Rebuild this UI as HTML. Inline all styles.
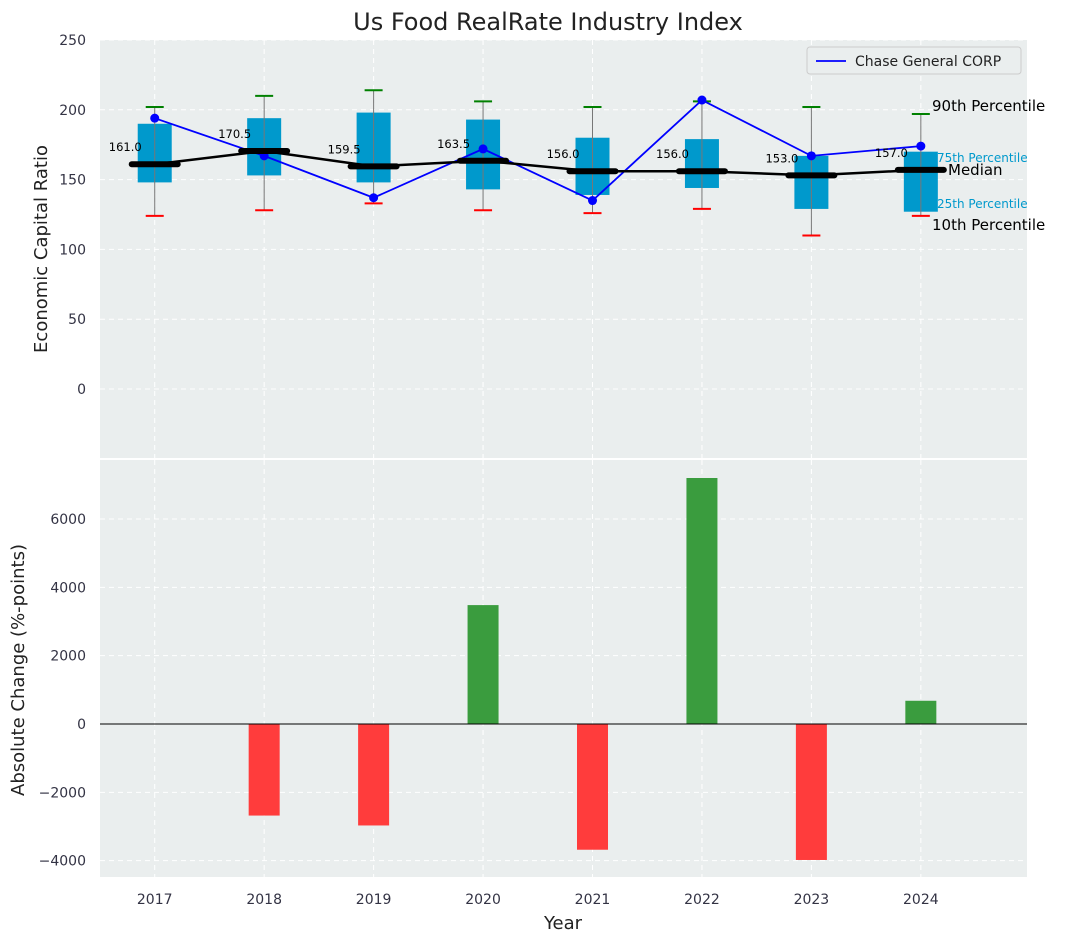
<!DOCTYPE html>
<html><head><meta charset="utf-8"><style>
body{margin:0;background:#fff;font-family:"Liberation Sans","DejaVu Sans",sans-serif}
svg text{font-family:"DejaVu Sans","Liberation Sans",sans-serif}
</style></head><body>
<svg id="c" width="1067" height="942" viewBox="0 0 1067 942">
<text x="548" y="30" text-anchor="middle" font-size="24" fill="#222">Us Food RealRate Industry Index</text>
<g id="topPanel"></g>
<g id="botPanel"></g>
</svg>
<script>
const years=[2017,2018,2019,2020,2021,2022,2023,2024];
const p10=[124,128,133,128,126,129,110,124];
const p25=[148,153,148,143,139,144,129,127];
const medians=[161.0,170.5,159.5,163.5,156.0,156.0,153.0,157.0];
const p75=[190,194,198,193,180,179,167,170];
const p90=[202,210,214,206,202,206,202,197];
const company=[194,167,137,172,135,207,167,174];
const changes=[0,-2680,-2970,3480,-3680,7200,-3980,680];
const topTicks=[0,50,100,150,200,250];
const botTicks=[-4000,-2000,0,2000,4000,6000];
const NS='http://www.w3.org/2000/svg';
const L=100,R=1027;
const x=v=>L+(v-2016.5)*(R-L)/(2024.97-2016.5);
const yT=v=>389-(v)*(389-40)/250;
const yB=v=>724-(v)*(724-519)/6000;
const fmt=v=>String(v).replace('-','\u2212');
function mk(p,t,a,txt){const e=document.createElementNS(NS,t);for(const k in a)e.setAttribute(k,a[k]);if(txt!==undefined)e.textContent=txt;p.appendChild(e);return e;}
const topG=document.getElementById('topPanel'),botG=document.getElementById('botPanel');
let e=mk(topG,'rect',{x:L,y:40,width:R-L,height:418,fill:'#eaeeee'});


e=mk(botG,'rect',{x:L,y:460,width:R-L,height:417,fill:'#eaeeee'});


years.forEach(yr=>{
 mk(topG,'line',{x1:x(yr),x2:x(yr),y1:40,y2:458,stroke:'#fff','stroke-dasharray':'5,4','stroke-width':1});
 mk(botG,'line',{x1:x(yr),x2:x(yr),y1:460,y2:877,stroke:'#fff','stroke-dasharray':'5,4','stroke-width':1});
 e=mk(botG,'text',{x:x(yr),y:904,'text-anchor':'middle','font-size':14,fill:'#334'},yr);
 
 
});
topTicks.forEach(t=>{
 mk(topG,'line',{x1:L,x2:R,y1:yT(t),y2:yT(t),stroke:'#fff','stroke-dasharray':'5,4'});
 e=mk(topG,'text',{x:86,y:yT(t)+5,'text-anchor':'end','font-size':14,fill:'#334'},fmt(t));
 
 
});
botTicks.forEach(t=>{
 mk(botG,'line',{x1:L,x2:R,y1:yB(t),y2:yB(t),stroke:'#fff','stroke-dasharray':'5,4'});
 e=mk(botG,'text',{x:86,y:yB(t)+5,'text-anchor':'end','font-size':14,fill:'#334'},fmt(t));
 
 
});
years.forEach((yr,i)=>{
 const cx=x(yr);
 e=mk(topG,'rect',{x:cx-17,y:yT(p75[i]),width:34,height:yT(p25[i])-yT(p75[i]),fill:'#0099cc'});
 
 
 mk(topG,'line',{x1:cx,x2:cx,y1:yT(p90[i]),y2:yT(p10[i]),stroke:'#777','stroke-width':1});
 mk(topG,'line',{x1:cx-9,x2:cx+9,y1:yT(p90[i]),y2:yT(p90[i]),stroke:'green','stroke-width':2});
 mk(topG,'line',{x1:cx-9,x2:cx+9,y1:yT(p10[i]),y2:yT(p10[i]),stroke:'red','stroke-width':2});
});
let d=years.map((yr,i)=>(i?'L':'M')+x(yr)+','+yT(company[i])).join('');
e=mk(topG,'path',{d:d,fill:'none',stroke:'blue','stroke-width':1.8});


years.forEach((yr,i)=>{e=mk(topG,'circle',{cx:x(yr),cy:yT(company[i]),r:4.5,fill:'blue'});
 
 });
d=years.map((yr,i)=>(i?'L':'M')+x(yr)+','+yT(medians[i])).join('');
e=mk(topG,'path',{d:d,fill:'none',stroke:'#000','stroke-width':2.5});


years.forEach((yr,i)=>{
 const cx=x(yr);
 e=mk(topG,'line',{x1:cx-23,x2:cx+23,y1:yT(medians[i]),y2:yT(medians[i]),stroke:'#000','stroke-width':6,'stroke-linecap':'round'});
 
 
 e=mk(topG,'text',{x:cx-13,y:yT(medians[i])-13,'text-anchor':'end','font-size':11.5,fill:'#000'},medians[i].toFixed(1));
 
 
});
const annots=[['90th Percentile',15,'#000',932,111],['75th Percentile',12,'#0099cc',937,162],['Median',15,'#000',948,175],['25th Percentile',12,'#0099cc',937,208],['10th Percentile',15,'#000',932,230]];
annots.forEach(a=>{
 e=mk(topG,'text',{x:a[3],y:a[4],'font-size':a[1],fill:a[2]},a[0]);
 
 
});
const lg=mk(topG,'g',{});


mk(lg,'rect',{x:807,y:47,width:214,height:27,rx:3,fill:'#eaeeee',stroke:'#ccc'});
mk(lg,'line',{x1:816,x2:846,y1:61,y2:61,stroke:'blue','stroke-width':1.8});
mk(lg,'text',{x:855,y:66,'font-size':14,fill:'#222'},'Chase General CORP');
years.forEach((yr,i)=>{
 const v=changes[i];if(!v)return;
 const y0=yB(0),y1=yB(v);
 e=mk(botG,'rect',{x:x(yr)-15.5,y:Math.min(y0,y1),width:31,height:Math.abs(y1-y0),fill:v>0?'#3a9c3e':'#ff3c3c'});
 
 
});
mk(botG,'line',{x1:L,x2:R,y1:yB(0),y2:yB(0),stroke:'#000','stroke-width':1});
mk(botG,'line',{x1:L,x2:R,y1:459,y2:459,stroke:'#fff','stroke-width':2});
e=mk(topG,'text',{x:47,y:249,'text-anchor':'middle','font-size':18,fill:'#222',transform:'rotate(-90 47 249)'},'Economic Capital Ratio');


e=mk(botG,'text',{x:24,y:670,'text-anchor':'middle','font-size':18,fill:'#222',transform:'rotate(-90 24 670)'},'Absolute Change (%-points)');


e=mk(botG,'text',{x:563,y:929,'text-anchor':'middle','font-size':18,fill:'#222'},'Year');


</script>
</body></html>
